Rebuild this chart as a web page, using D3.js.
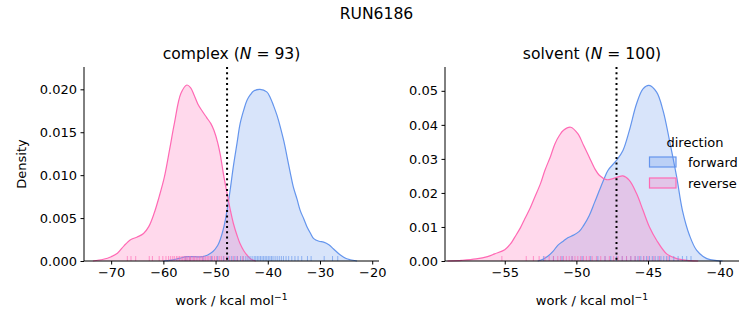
<!DOCTYPE html>
<html><head><meta charset="utf-8">
<script src="https://cdn.jsdelivr.net/npm/d3@7"></script>
<style>body{margin:0;background:#fff}svg{display:block;font-family:"DejaVu Sans",sans-serif}</style>
</head><body><div id="chart"></div>
<script>
// ---------- data ----------
const figTitle = "RUN6186";
const directions = ["forward", "reverse"];
const colors = ["#6495ED", "#FF69B4"];

// complex panel: KDE curves (work, density)
const complexForwardX = [-60,-58.5,-57,-55.5,-54,-52.5,-51.5,-50.5,-49.6,-49.1,-48.4,-47.8,-47.2,-46.6,-45.9,-45.3,-44.6,-44.0,-43.3,-42.7,-41.5,-40.2,-39.5,-38.9,-38.2,-37.6,-36.9,-36.3,-35.7,-35.1,-34.4,-33.8,-33.1,-32.5,-31.8,-31.2,-30.2,-29.3,-28.3,-27.4,-26.1,-25.0,-24.2,-22.9];
const complexForwardY = [0,0.0001,0.0003,0.0005,0.0005,0.0005,0.0007,0.0011,0.0018,0.0025,0.0040,0.0059,0.0083,0.0110,0.0137,0.0160,0.0176,0.0187,0.0194,0.0198,0.0200,0.0197,0.0190,0.0181,0.0169,0.0156,0.0139,0.0121,0.0103,0.0086,0.0072,0.0059,0.0049,0.0040,0.0032,0.0026,0.0023,0.0022,0.0019,0.0014,0.0007,0.0003,0.00015,0];
const complexReverseX = [-73.5,-71.5,-70,-68.8,-67.5,-66.2,-65.0,-63.8,-62.8,-61.8,-60.8,-59.8,-58.8,-57.9,-56.65,-55.5,-54.8,-54.1,-53.4,-52.6,-51.7,-50.9,-50.3,-49.6,-49.1,-48.4,-47.8,-47.2,-46.6,-45.9,-45.3,-44.6,-44.0,-43.2,-42.3];
const complexReverseY = [0,0.0002,0.0005,0.0009,0.0018,0.0025,0.0028,0.0032,0.0040,0.0055,0.0075,0.0098,0.0130,0.0160,0.0195,0.0205,0.0202,0.0193,0.0183,0.0175,0.0167,0.0160,0.0152,0.0138,0.0124,0.0098,0.0079,0.0060,0.0044,0.0030,0.0020,0.0012,0.0007,0.0002,0];
// solvent panel: KDE curves
const solventForwardX = [-52.7,-52.3,-52.0,-51.6,-51.3,-50.9,-50.6,-50.2,-49.8,-49.5,-49.1,-48.75,-48.4,-48.1,-47.8,-47.2,-46.75,-46.3,-45.8,-45.35,-44.93,-44.4,-43.95,-43.5,-43.0,-42.6,-42.1,-41.6,-40.9,-40.2,-39.8];
const solventForwardY = [0,0.0006,0.0014,0.0030,0.0046,0.0059,0.0068,0.0076,0.0087,0.0104,0.0134,0.0170,0.0207,0.0238,0.0266,0.0296,0.0325,0.0384,0.0462,0.0506,0.0516,0.0496,0.0442,0.0354,0.0247,0.0149,0.0075,0.0031,0.0007,0.0001,0];
const solventReverseX = [-59.0,-58,-57.0,-56.2,-55.7,-55.0,-54.6,-54.3,-53.9,-53.6,-53.2,-52.9,-52.5,-52.2,-51.8,-51.5,-51.2,-50.9,-50.4,-49.9,-49.5,-49.1,-48.7,-48.4,-47.9,-47.45,-46.75,-46.3,-45.8,-45.35,-44.9,-44.4,-43.7,-43.0,-42.1,-41.5];
const solventReverseY = [0,0.0002,0.0006,0.0013,0.0021,0.0033,0.0050,0.0070,0.0098,0.0124,0.0158,0.0188,0.0228,0.0266,0.0308,0.0344,0.0368,0.0384,0.0393,0.0374,0.0340,0.0305,0.0270,0.0252,0.0239,0.0242,0.0250,0.0237,0.0198,0.0149,0.0100,0.0061,0.0021,0.0007,0.0001,0];

// rug samples (work values)
const complexForwardRug = [-55.7,-54.9,-52.4,-50.8,-49.6,-48.5,-47.6,-46.9,-46.3,-45.8,-45.2,-44.7,-44.2,-43.8,-43.4,-43.0,-42.6,-42.3,-42.0,-41.7,-41.4,-41.1,-40.8,-40.5,-40.2,-39.9,-39.6,-39.3,-39.0,-38.6,-38.2,-37.8,-37.4,-37.0,-36.5,-36.0,-35.4,-34.8,-34.2,-33.5,-32.4,-31.7,-29.2,-27.6,-26.6];
const complexReverseRug = [-66.9,-66.2,-65.3,-62.7,-62.1,-60.8,-60.1,-59.5,-59.0,-58.6,-58.2,-57.9,-57.5,-57.2,-56.9,-56.6,-56.3,-56.0,-55.8,-55.5,-55.3,-55.0,-54.8,-54.5,-54.2,-54.0,-53.7,-53.4,-53.1,-52.8,-52.5,-52.2,-51.9,-51.6,-51.3,-51.0,-50.6,-50.2,-49.8,-49.3,-48.9,-48.4,-47.9,-47.3,-46.6,-45.9,-44.8];
const solventForwardRug = [-52.3,-51.6,-51.0,-50.3,-49.6,-49.0,-48.5,-48.0,-47.6,-47.2,-46.8,-46.5,-46.2,-45.9,-45.7,-45.5,-45.3,-45.1,-44.9,-44.7,-44.5,-44.3,-44.1,-43.9,-43.7,-43.5,-43.2,-42.9,-42.6,-42.3,-42.0];
const solventReverseRug = [-55.2,-53.5,-53.0,-52.6,-52.2,-51.9,-51.6,-51.3,-51.1,-50.9,-50.7,-50.5,-50.3,-50.1,-49.9,-49.7,-49.5,-49.3,-49.1,-48.9,-48.6,-48.3,-48.0,-47.7,-47.4,-47.1,-46.8,-46.5,-46.2,-45.9,-45.6,-45.3,-45.0,-44.6,-44.2,-43.6];

// vertical dotted reference lines
const complexRef = -47.8;
const solventRef = -47.2;

// ticks
const complexXTicks = [-70,-60,-50,-40,-30,-20];
const complexYTicks = [0,0.005,0.010,0.015,0.020];
const solventXTicks = [-55,-50,-45,-40];
const solventYTicks = [0,0.01,0.02,0.03,0.04,0.05];

const panels = [
  {name:"complex", n:93, xdom:[-75.2,-18.7], ydom:[0,0.0226], fmt:".3f",
   xticks:complexXTicks, yticks:complexYTicks, ref:complexRef,
   curves:[[complexForwardX,complexForwardY],[complexReverseX,complexReverseY]],
   rugs:[complexForwardRug,complexReverseRug], left:84, right:379, ylabel:true, legend:false},
  {name:"solvent", n:100, xdom:[-59.17,-38.65], ydom:[0,0.057], fmt:".2f",
   xticks:solventXTicks, yticks:solventYTicks, ref:solventRef,
   curves:[[solventForwardX,solventForwardY],[solventReverseX,solventReverseY]],
   rugs:[solventForwardRug,solventReverseRug], left:445, right:739, ylabel:false, legend:true}
];

// ---------- drawing ----------
const W = 753, H = 325, plotTop = 67, plotBottom = 261;
const svg = d3.select("#chart").append("svg").attr("width", W).attr("height", H);

svg.append("text").attr("x", 376.5).attr("y", 18.5).attr("text-anchor","middle")
  .attr("font-size", 15.6).text(figTitle);

panels.forEach(p => {
  const x = d3.scaleLinear().domain(p.xdom).range([p.left, p.right]);
  const y = d3.scaleLinear().domain(p.ydom).range([plotBottom, plotTop]);
  const g = svg.append("g");

  const area = d3.area().x(d => x(d[0])).y0(y(0)).y1(d => y(d[1])).curve(d3.curveCatmullRom.alpha(0.5));
  const line = d3.line().x(d => x(d[0])).y(d => y(d[1])).curve(d3.curveCatmullRom.alpha(0.5));

  p.curves.forEach((c, i) => {
    const pts = c[0].map((v, k) => [v, c[1][k]]);
    g.append("path").datum(pts).attr("d", area).attr("fill", colors[i]).attr("fill-opacity", 0.25);
  });
  p.curves.forEach((c, i) => {
    const pts = c[0].map((v, k) => [v, c[1][k]]);
    g.append("path").datum(pts).attr("d", line).attr("fill", "none").attr("stroke", colors[i]).attr("stroke-width", 1.2);
  });

  // rugs
  p.rugs.forEach((r, i) => {
    g.selectAll(null).data(r).enter().append("line")
      .attr("x1", d => x(d)).attr("x2", d => x(d))
      .attr("y1", plotBottom).attr("y2", plotBottom - 5)
      .attr("stroke", colors[i]).attr("stroke-opacity", 0.65).attr("stroke-width", 1);
  });

  // dotted line
  g.append("line").attr("x1", x(p.ref)).attr("x2", x(p.ref)).attr("y1", plotTop).attr("y2", plotBottom)
    .attr("stroke", "#000").attr("stroke-width", 2).attr("stroke-dasharray", "2,3.3");

  // axes
  const xa = g.append("g").attr("transform", `translate(0,${plotBottom})`)
    .call(d3.axisBottom(x).tickValues(p.xticks).tickSize(3.5).tickPadding(3.5).tickFormat(d3.format("d")));
  const ya = g.append("g").attr("transform", `translate(${p.left},0)`)
    .call(d3.axisLeft(y).tickValues(p.yticks).tickSize(3.5).tickPadding(3.5).tickFormat(d3.format(p.fmt)));
  [xa, ya].forEach(a => {
    a.attr("font-family", "DejaVu Sans").attr("font-size", 13);
    a.select(".domain").attr("stroke", "#000").attr("stroke-width", 1);
    a.selectAll(".tick line").attr("stroke", "#000").attr("stroke-width", 1);
    a.selectAll(".tick text").attr("fill", "#000");
  });
  xa.select(".domain").attr("d", `M${p.left},0H${p.right}`);
  ya.select(".domain").attr("d", `M0,${plotBottom}V${plotTop}`);

  // title
  const t = svg.append("text").attr("x", (p.left + p.right) / 2).attr("y", 59)
    .attr("text-anchor", "middle").attr("font-size", 15.6);
  t.append("tspan").text(p.name + " (");
  t.append("tspan").attr("font-style", "italic").text("N");
  t.append("tspan").text(" = " + p.n + ")");

  // x label
  const xl = svg.append("text").attr("x", (p.left + p.right) / 2).attr("y", 305)
    .attr("text-anchor", "middle").attr("font-size", 13);
  xl.append("tspan").text("work / kcal mol");
  xl.append("tspan").attr("font-size", 9.2).attr("dy", -5).text("\u22121");

  if (p.ylabel) {
    svg.append("text").attr("transform", `translate(26,${(plotTop + plotBottom) / 2}) rotate(-90)`)
      .attr("text-anchor", "middle").attr("font-size", 13).text("Density");
  }

  if (p.legend) {
    const lg = svg.append("g");
    lg.append("text").attr("x", 695).attr("y", 146.5).attr("text-anchor", "middle")
      .attr("font-size", 13).text("direction");
    directions.forEach((dname, i) => {
      const yy = 157 + i * 21;
      lg.append("rect").attr("x", 649.5).attr("y", yy).attr("width", 26.5).attr("height", 10)
        .attr("fill", colors[i]).attr("fill-opacity", 0.25)
        .attr("stroke", colors[i]).attr("stroke-width", 1.2);
      lg.append("text").attr("x", 688).attr("y", yy + 9.5).attr("font-size", 13).text(dname);
    });
  }
});
</script>
</body></html>
